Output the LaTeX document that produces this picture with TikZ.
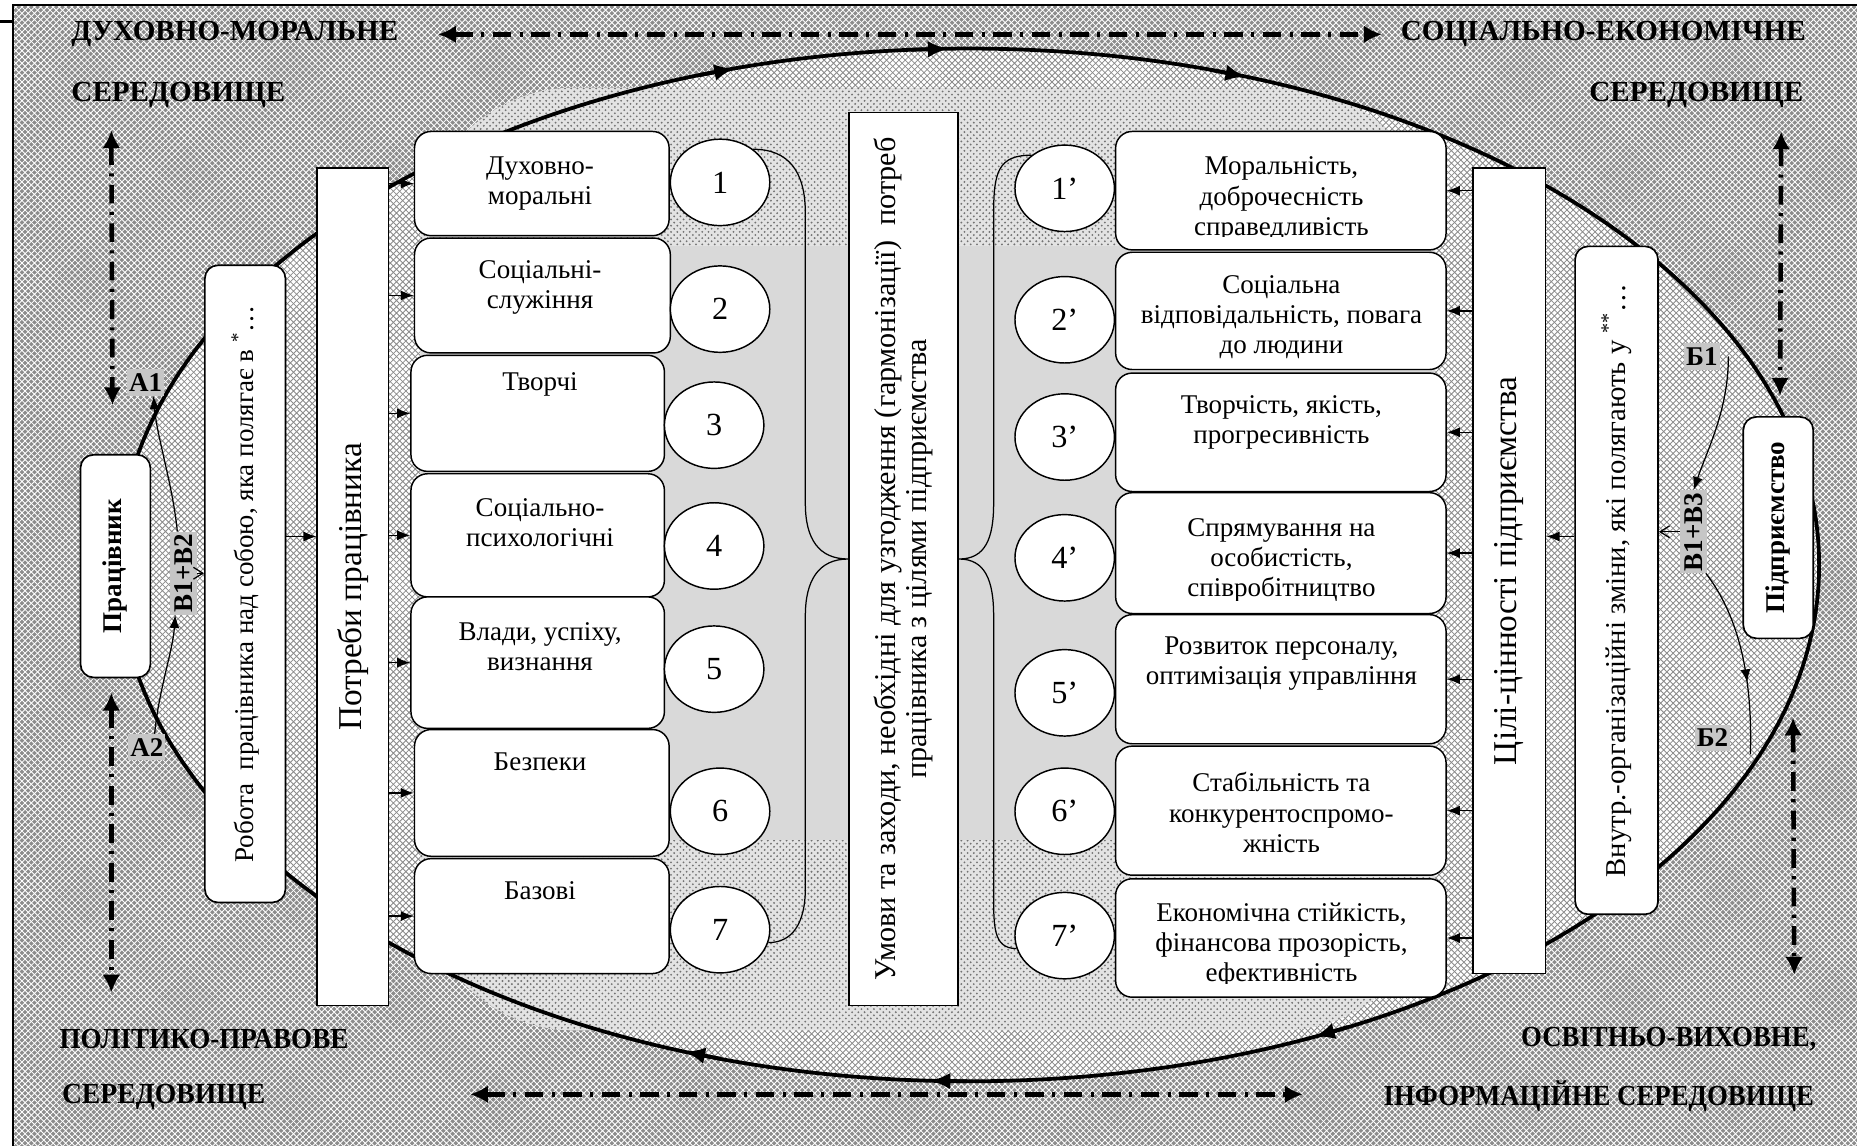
\documentclass[tikz,border=0pt]{standalone}
\usepackage{fontspec}
\setmainfont{Liberation Serif}
\usetikzlibrary{arrows.meta,patterns,decorations.markings,fit,shapes.geometric}

\begin{document}
\begin{tikzpicture}[
    x=.02cm,y=-.02cm,font=\fontsize{13}{14.5}\selectfont,
    ringline/.style={line width=1.8pt},
    needbox/.style={draw,line width=.7pt,fill=white,rounded corners=.28cm,inner sep=0pt},
    tallbox/.style={draw,line width=.9pt,fill=white,inner sep=0pt},
    sidebox/.style={draw,line width=.8pt,fill=white,rounded corners=.22cm,inner sep=0pt},
    numdisc/.style={ellipse,draw,line width=.7pt,fill=white,inner sep=0pt,
        minimum width=1.68cm,minimum height=1.46cm,font=\fontsize{15.5}{15.5}\selectfont},
    bracestroke/.style={line width=.6pt},
    link/.style={line width=.6pt,-{Latex[length=2.2mm,width=1.7mm]}},
    barb/.style={line width=.6pt,-{Straight Barb[length=1.6mm,width=2mm]}},
    ringtip/.tip={Latex[length=3.4mm,width=2.8mm]},
    envlink/.style={line width=2.2pt,dash pattern=on 9pt off 4pt on 1.5pt off 4pt,
        {Latex[length=3mm,width=3mm]}-{Latex[length=3mm,width=3mm]}},
    envtext/.style={inner sep=0pt,font=\bfseries\fontsize{14}{14}\selectfont},
    steptag/.style={fill=gray!45,inner xsep=1pt,inner ysep=2pt,
        font=\bfseries\fontsize{13}{13}\selectfont},
    bigtext/.style={rotate=90,font=\fontsize{16}{16}\selectfont},
    sidetext/.style={rotate=90,font=\fontsize{13}{13}\selectfont},
    nametext/.style={rotate=90,font=\bfseries\fontsize{13}{13}\selectfont}
]
    \useasboundingbox (0,0) rectangle (1568,968);

    % Outer field: the surrounding environments.
    \fill[black!45] (11,4) rectangle (1568,968);
    \fill[pattern=crosshatch,pattern color=white] (11,4) rectangle (1568,968);
    \draw[line width=.9pt] (1568,4) -- (11,4) -- (11,968);
    \draw[line width=1.4pt] (0,18) -- (11,18);

    % Ellipse ring and the inner field with its middle band.
    \fill[white] (818,477) ellipse [x radius=718,y radius=436];
    \fill[pattern=crosshatch,pattern color=black!45] (818,477) ellipse [x radius=718,y radius=436];
    \fill[gray!22,rounded corners=2.6cm] (355,74) rectangle (1212,870);
    \fill[pattern=crosshatch dots,pattern color=black!55,rounded corners=2.6cm] (355,74) rectangle (1212,870);
    \begin{scope}
        \clip[rounded corners=2.6cm] (355,74) rectangle (1212,870);
        \fill[gray!30] (355,208) rectangle (1212,709);
    \end{scope}
    \draw[ringline] (818,477) ellipse [x radius=718,y radius=436];
    % Clockwise tips on the ring.
    \foreach \t in {66,92.6,109.5,254,268.6,289}
        \draw[ringline,-{ringtip}] ({818+718*cos(\t-2.5)},{477+436*sin(\t-2.5)})
            -- ({818+718*cos(\t)},{477+436*sin(\t)});

    % Environment captions in the corners.
    \node[envtext,anchor=west] (dm) at (60,29) {ДУХОВНО-МОРАЛЬНЕ};
    \node[envtext,anchor=west] (dmsub) at (60,80) {СЕРЕДОВИЩЕ};
    \node[envtext,anchor=east] (se) at (1525,29) {СОЦІАЛЬНО-ЕКОНОМІЧНЕ};
    \node[envtext,anchor=east] (sesub) at (1523,80) {СЕРЕДОВИЩЕ};
    \node[envtext,anchor=west] (pp) at (50,877) {\scalebox{.93}[1]{ПОЛІТИКО-ПРАВОВЕ}};
    \node[envtext,anchor=west] (ppsub) at (52,926) {\scalebox{.95}[1]{СЕРЕДОВИЩЕ}};
    \node[envtext,anchor=east] (ov) at (1534,877) {\scalebox{.92}[1]{ОСВІТНЬО-ВИХОВНЕ,}};
    \node[envtext,anchor=east] (ovsub) at (1532,926) {\scalebox{.92}[1]{ІНФОРМАЦІЙНЕ СЕРЕДОВИЩЕ}};

    % Dash-dot exchanges between the environments.
    \coordinate (luA) at (94,110);   \coordinate (luB) at (95,342);
    \coordinate (llA) at (94,585);   \coordinate (llB) at (94,838);
    \coordinate (ruA) at (1504,111); \coordinate (ruB) at (1503,334);
    \coordinate (rlA) at (1514,606); \coordinate (rlB) at (1515,823);
    \coordinate (blA) at (397,924);  \coordinate (blB) at (1100,924);
    \draw[envlink,shorten <=19pt,shorten >=9pt] (dm.east) -- (se.west);
    \foreach \a/\b in {luA/luB,llA/llB,ruA/ruB,rlA/rlB,blA/blB}
        \draw[envlink] (\a) -- (\b);

    % Worker side.
    \node[sidebox,fit={(68,384) (127,572)}] (worker) {};
    \node[nametext] (workerlabel) at (worker) {Працівник};
    \node[sidebox,fit={(173,224) (241,762)}] (robota) {};
    \node[sidetext] (robotalabel) at (robota)
        {Робота\ \ працівника над собою, яка полягає в \textsuperscript{*}…};
    \node[tallbox,fit={(268,142) (328,849)}] (potreby) {};
    \node[bigtext] (potrebylabel) at (potreby) {Потреби працівника};

    % Enterprise side.
    \node[sidebox,fit={(1472,352) (1531,539)}] (firm) {};
    \node[nametext] (firmlabel) at (firm) {Підприємство};
    \node[sidebox,fit={(1330,208) (1400,772)}] (vnutr) {};
    \node[sidetext,font=\fontsize{13.8}{13.8}\selectfont] (vnutrlabel) at (vnutr)
        {Внутр.-організаційні зміни, які полягають у \textsuperscript{**}…};
    \node[tallbox,fit={(1244,142) (1305,822)}] (goals) {};
    \node[bigtext] (goalslabel) at (goals) {Цілі-цінності підприємства};

    % Needs of the worker.
    \foreach \n/\xa/\xb/\ya/\yb in {1/350/565/111/199,2/350/566/201/298,3/347/561/300/398,
            4/347/561/400/504,5/347/561/504/615,6/350/565/616/723,7/350/565/725/822}
        \node[needbox,fit={(\xa,\ya) (\xb,\yb)}] (need\n) {};
    \foreach \n/\y/\txt in {1/155/{Духовно-\\моральні},2/243/{Соціальні-\\служіння},
            3/325/{Творчі},4/441/{Соціально-\\психологічні},5/546/{Влади, успіху,\\визнання},
            6/643/{Безпеки},7/752/{Базові}}
        \node[align=center] (needtxt\n) at (456,\y) {\txt};

    % Goals of the enterprise; three texts run past their boxes and are cut.
    \foreach \n/\ya/\yb in {1/111/211,2/213/312,3/315/415,4/416/518,5/519/628,6/630/739,7/742/842}
        \node[needbox,fit={(942,\ya) (1221,\yb)}] (value\n) {};
    \foreach \n/\y/\cut/\txt in {1/168/12/{Моральність,\\доброчесність\\справедливість},
            2/268/0/{Соціальна\\відповідальність, повага\\до людини},
            3/357/0/{Творчість, якість,\\прогресивність},
            4/473/12/{Спрямування на\\особистість,\\співробітництво},
            5/560/0/{Розвиток персоналу,\\оптимізація управління},
            6/686/0/{Стабільність та\\конкурентоспромо-\\жність},
            7/798/12/{Економічна стійкість,\\фінансова прозорість,\\ефективність}} {
        \begin{scope}
            \clip (value\n.north west) rectangle ([yshift=\cut*.569pt]value\n.south east);
            \node[align=center] (valuetxt\n) at (1082,\y) {\txt};
        \end{scope}
    }

    % Numbered discs.
    \foreach \n/\x/\y in {1/608/154,2/608/261,3/603/359,4/603/461,5/603/565,6/608/685,7/608/785}
        \node[numdisc] (c\n) at (\x,\y) {\n};
    \foreach \n/\y in {1/159,2/270,3/369,4/471,5/585,6/685,7/790}
        \node[numdisc] (d\n) at (899,\y) {\n’};

    % Middle column.
    \node[tallbox,fit={(717,95) (809,849)}] (mid) {};
    \node[rotate=90,align=center,font=\fontsize{14.5}{14.7}\selectfont] (midlabel) at (mid)
        {Умови та заходи, необхідні для узгодження (гармонізації)\ \ потреб\\працівника з цілями підприємства};

    % Braces joining the discs to the middle column.
    \draw[bracestroke] (c1.45) .. controls +(30,0) and +(0,-35) .. (680,180) -- (680,425)
        .. controls +(0,30) and +(-25,0) .. (mid.west)
        .. controls +(-25,0) and +(0,-30) .. (680,520) -- (680,750)
        .. controls +(0,30) and +(20,0) .. (c7.-15);
    \draw[bracestroke] (d1.135) .. controls +(-28,0) and +(0,-35) .. (839,180) -- (839,425)
        .. controls +(0,30) and +(22,0) .. (mid.east)
        .. controls +(22,0) and +(0,-30) .. (839,520) -- (839,752)
        .. controls +(0,30) and +(-20,0) .. (d7.195);

    % Arrows into the needs and goals.
    \coordinate (feedlevel) at (0,453);
    \draw[link] (robota.east |- feedlevel) -- (potreby.west |- feedlevel);
    \draw[link] (vnutr.west |- feedlevel) -- (goals.east |- feedlevel);
    \foreach \n in {1,...,7} {
        \draw[link] (potreby.east |- need\n.west) -- (need\n.west);
        \draw[link] (goals.west |- value\n.east) -- (value\n.east);
    }

    % Change paths of the worker.
    \node[steptag] (a1) at (123,323) {А1};
    \node[steptag] (a2) at (124,631) {А2};
    \node[steptag,rotate=90] (b12) at (155,484) {В1+В2};
    \draw[link] ([xshift=-3pt]b12.east) .. controls +(-4,-40) and +(3,35) .. (a1.-60);
    \draw[link] (a2.60) .. controls +(3,-35) and +(-2,30) .. ([xshift=-4pt]b12.west);
    \draw[barb] (b12.south) -- (robota.west |- b12.south);

    % Change paths of the enterprise.
    \node[steptag] (b1) at (1437,301) {Б1};
    \node[steptag,rotate=90] (b13) at (1430,449) {В1+В3};
    \node[steptag] (b2) at (1446,623) {Б2};
    \coordinate (b2end) at (1478,637);
    \draw[link] ([xshift=4pt]b1.east) .. controls +(0,45) and +(12,-35) .. (b13.east);
    \draw[line width=.6pt,postaction=decorate,decoration={markings,
        mark=at position .62 with {\arrow{Latex[length=2.2mm,width=1.7mm]}}}]
        ([xshift=6pt]b13.west) .. controls +(26,34) and +(2,-70) .. (b2end);
    \draw[barb] (b13.north) -- (vnutr.east |- b13.north);
\end{tikzpicture}
\end{document}
